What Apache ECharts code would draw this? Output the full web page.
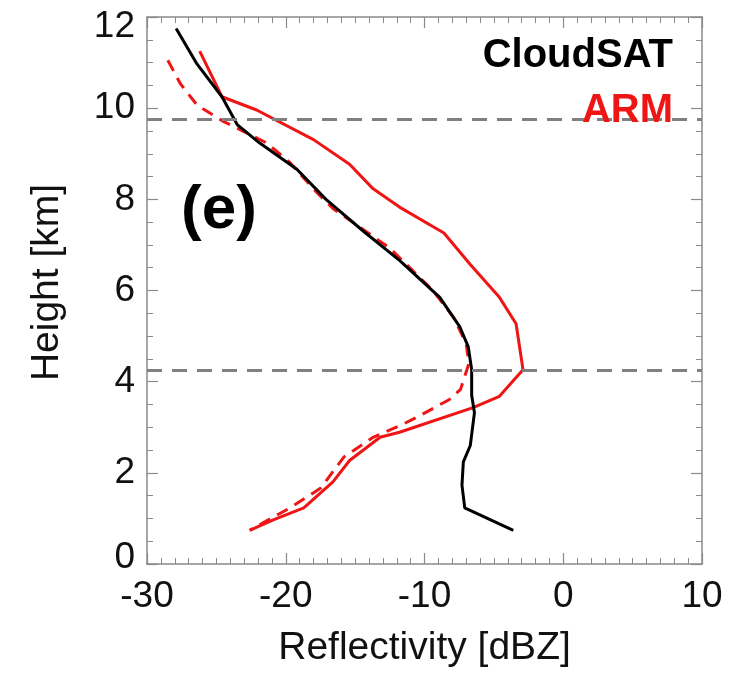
<!DOCTYPE html>
<html>
<head>
<meta charset="utf-8">
<script src="https://cdn.jsdelivr.net/npm/echarts@6/dist/echarts.min.js"></script>
<style>html,body{margin:0;padding:0;background:#fff}#c{width:749px;height:673px}</style>
</head>
<body>
<div id="c"></div>
<script>
// CloudSAT (black solid)
const cloudsatHeight = [11.75, 10.97, 10.25, 9.64, 9.24, 8.66, 8.0, 7.3, 6.66, 5.85, 5.2, 4.77, 4.26, 3.7, 3.32, 2.6, 2.24, 1.73, 1.23, 0.74];
const cloudsatDbz    = [-27.9, -26.4, -24.6, -23.5, -21.9, -19.2, -17.1, -14.4, -11.8, -8.9, -7.45, -6.85, -6.6, -6.6, -6.4, -6.7, -7.2, -7.3, -7.1, -3.6];
// ARM (red solid)
const armHeight = [11.25, 10.25, 9.96, 9.31, 8.77, 8.23, 7.83, 7.26, 6.57, 5.85, 5.27, 4.26, 3.68, 3.43, 2.89, 2.78, 2.27, 1.8, 1.23, 0.97, 0.74];
const armDbz    = [-26.2, -24.6, -22.1, -18.0, -15.4, -13.7, -11.8, -8.6, -6.7, -4.6, -3.4, -2.9, -4.6, -6.5, -11.8, -13.2, -15.4, -16.6, -18.7, -20.9, -22.6];
// ARM (red dashed)
const armDashHeight = [11.05, 10.54, 10.07, 9.71, 9.53, 9.24, 8.81, 8.16, 7.8, 6.93, 6.0, 5.41, 4.84, 4.40, 3.83, 3.61, 3.21, 3.03, 2.78, 2.35, 1.66, 1.23, 0.74];
const armDashDbz    = [-28.5, -27.6, -26.4, -24.5, -23.3, -21.4, -19.7, -17.8, -16.6, -12.5, -9.4, -7.9, -7.0, -6.8, -7.4, -8.2, -10.6, -11.8, -13.7, -15.8, -17.5, -19.7, -22.6];
// Reference heights (gray dashed)
const refHeights = [9.75, 4.25];
// Axes
const xTicks = [-30, -20, -10, 0, 10];
const yTicks = [0, 2, 4, 6, 8, 10, 12];
const legendNames = ['CloudSAT', 'ARM'];
const panelLabel = '(e)';

const pairs = (xs, ys) => xs.map((x, i) => [x, ys[i]]);
const FONT = 'Liberation Sans, Arial, sans-serif';
const AX = '#8a8a8a';
const yMin = yTicks[0], yMax = yTicks[yTicks.length - 1];

const chart = echarts.init(document.getElementById('c'), null, {renderer: 'canvas'});
const baseX = {
  type: 'value', min: xTicks[0], max: xTicks[xTicks.length - 1], interval: 10,
  axisLine: {show: true, onZero: false, lineStyle: {color: AX, width: 1.5}},
  axisTick: {show: true, inside: true, length: 11, lineStyle: {color: AX, width: 1.2}},
  minorTick: {show: true, splitNumber: 10, length: 6, lineStyle: {color: AX, width: 1}},
  splitLine: {show: false}
};
const baseY = {
  type: 'value', min: yMin, max: yMax, interval: 2,
  axisLine: {show: true, onZero: false, lineStyle: {color: AX, width: 1.5}},
  axisTick: {show: true, inside: true, length: 11, lineStyle: {color: AX, width: 1.2}},
  minorTick: {show: true, splitNumber: 4, length: 6, lineStyle: {color: AX, width: 1}},
  splitLine: {show: false}
};
const lblStyle = {fontFamily: FONT, fontSize: 37, color: '#111'};
chart.setOption({
  animation: false,
  backgroundColor: '#fff',
  grid: {left: 147, right: 47, top: 17, bottom: 103},
  xAxis: [
    Object.assign({}, baseX, {
      position: 'bottom',
      name: 'Reflectivity [dBZ]', nameLocation: 'middle', nameGap: 65,
      nameTextStyle: {fontFamily: FONT, fontSize: 39, color: '#111'},
      axisLabel: Object.assign({margin: 14}, lblStyle)
    }),
    Object.assign({}, baseX, {position: 'top', axisLabel: {show: false}})
  ],
  yAxis: [
    Object.assign({}, baseY, {
      position: 'left',
      name: 'Height [km]', nameLocation: 'middle', nameGap: 80,
      nameTextStyle: {fontFamily: FONT, fontSize: 39, color: '#111', padding: [0, 0, 0, 16]},
      axisLabel: Object.assign({
        margin: 12,
        formatter: v => v === yMax ? '{dn|' + v + '}' : (v === yMin ? '{up|' + v + '}' : '' + v),
        rich: {
          dn: Object.assign({padding: [20, 0, 0, 0]}, lblStyle),
          up: Object.assign({padding: [0, 0, 12, 0]}, lblStyle)
        }
      }, lblStyle)
    }),
    Object.assign({}, baseY, {position: 'right', axisLabel: {show: false}})
  ],
  series: [
    {
      type: 'line', name: 'CloudSAT', data: pairs(cloudsatDbz, cloudsatHeight),
      showSymbol: false, symbol: 'none', smooth: false,
      lineStyle: {color: '#000', width: 3},
      markLine: {
        silent: true, symbol: ['none', 'none'], label: {show: false},
        lineStyle: {color: '#808080', width: 3, type: [15, 10]},
        data: refHeights.map(h => ({yAxis: h}))
      },
      z: 3
    },
    {
      type: 'line', name: 'ARM', data: pairs(armDbz, armHeight),
      showSymbol: false, symbol: 'none',
      lineStyle: {color: '#f01515', width: 3}, z: 2
    },
    {
      type: 'line', name: 'ARM dashed', data: pairs(armDashDbz, armDashHeight),
      showSymbol: false, symbol: 'none',
      lineStyle: {color: '#f01515', width: 3, type: [12, 8]}, z: 2
    }
  ],
  graphic: [
    {type: 'text', right: 76, top: 36, style: {text: legendNames[0], fontFamily: FONT, fontWeight: 'bold', fontSize: 40, fill: '#000'}, z: 10},
    {type: 'text', right: 76, top: 91, style: {text: legendNames[1], fontFamily: FONT, fontWeight: 'bold', fontSize: 40, fill: '#f01515'}, z: 10},
    {type: 'text', left: 181, top: 180, style: {text: panelLabel, fontFamily: FONT, fontWeight: 'bold', fontSize: 62, fill: '#000'}, z: 10}
  ]
});
</script>
</body>
</html>
